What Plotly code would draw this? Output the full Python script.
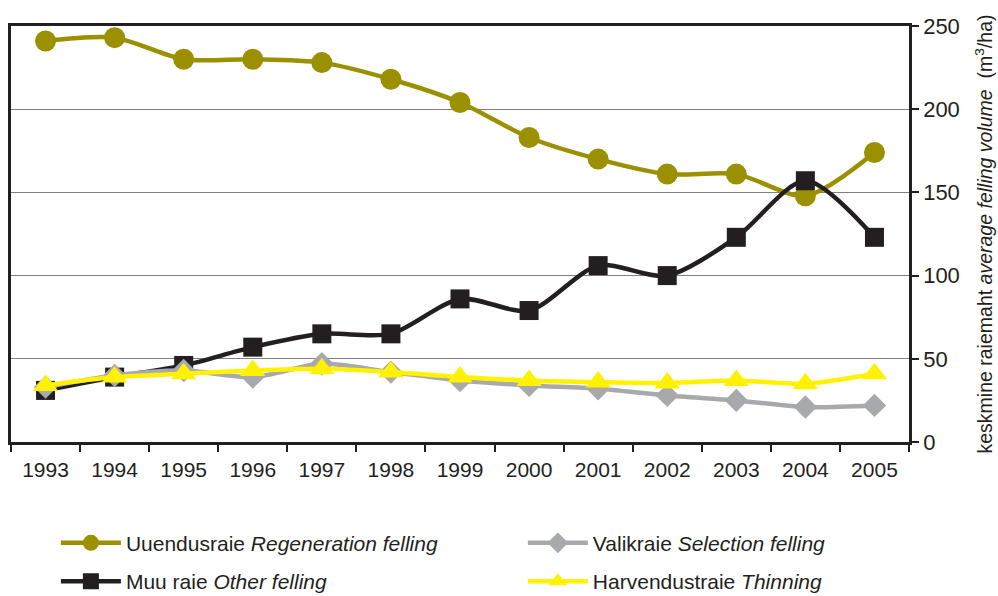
import plotly.graph_objects as go

years = ["1993", "1994", "1995", "1996", "1997", "1998", "1999",
         "2000", "2001", "2002", "2003", "2004", "2005"]

regeneration = [241, 243, 230, 230, 228, 218, 204, 183, 170, 161, 161, 148, 174]
other = [31, 39, 46, 57, 65, 65, 86, 79, 106, 100, 123, 157, 123]
selection = [33, 40, 43, 39, 47, 42, 37, 34, 32, 28, 25, 21, 22]
thinning = [34, 39, 41, 43, 44, 42, 39, 37, 36, 35.5, 37, 35, 41]

y_ticks = [0, 50, 100, 150, 200, 250]

OLIVE = "#9a9000"
BLACK = "#231f20"
GRAY = "#a7a9ac"
YELLOW = "#fff200"

FONT = "Liberation Sans, Arial, sans-serif"

fig = go.Figure()

series = [
    # (name, values, color, symbol, marker size, legend, rank)
    ("Uuendusraie <i>Regeneration felling</i>", regeneration, OLIVE, "circle", 21, "legend", 1),
    ("Muu raie <i>Other felling</i>", other, BLACK, "square", 19, "legend", 2),
    ("Valikraie <i>Selection felling</i>", selection, GRAY, "diamond", 18, "legend2", 1),
    ("Harvendustraie <i>Thinning</i>", thinning, YELLOW, "triangle-up", 22, "legend2", 2),
]

for i, (name, vals, color, sym, size, leg, rank) in enumerate(series):
    fig.add_trace(go.Scatter(
        x=years, y=vals, name=name,
        mode="lines+markers",
        line=dict(color=color, width=4.5, shape="spline", smoothing=0.8),
        marker=dict(color=color, symbol=sym, size=size, line=dict(width=0)),
        legend=leg, legendrank=rank, legendgroup=f"g{i}",
        hoverinfo="x+y",
    ))

legend_common = dict(
    yref="container", y=0.123, yanchor="top",
    orientation="v", tracegroupgap=8,
    font=dict(family=FONT, size=21, color="#231f20"),
    itemwidth=60, bgcolor="rgba(0,0,0,0)",
)

fig.update_layout(
    width=998, height=596,
    margin=dict(l=11, r=89, t=26, b=154, autoexpand=False),
    paper_bgcolor="white", plot_bgcolor="white",
    font=dict(family=FONT, size=21, color="#231f20"),
    showlegend=True,
    legend=dict(x=0.05, xanchor="left", **legend_common),
    legend2=dict(x=0.57, xanchor="left", **legend_common),
)

fig.update_xaxes(
    type="category",
    tickson="boundaries",
    ticks="outside", ticklen=7, tickwidth=1.5, tickcolor="#231f20",
    ticklabelstandoff=7,
    showline=True, linecolor="#231f20", linewidth=2.5,
    mirror=True,
    showgrid=False,
    tickfont=dict(family=FONT, size=21, color="#231f20"),
    range=[-0.5, 12.5],
)

fig.update_yaxes(
    side="right",
    range=[0, 250],
    tickvals=y_ticks,
    ticks="outside", ticklen=7, tickwidth=1.5, tickcolor="#231f20",
    showline=True, linecolor="#231f20", linewidth=2.5,
    mirror=True,
    showgrid=True, gridcolor="#808080", gridwidth=1.2,
    zeroline=False,
    tickfont=dict(family=FONT, size=22, color="#231f20"),
    title=dict(
        text="keskmine raiemaht <i>average felling volume</i>  (m<sup>3</sup>/ha)",
        font=dict(family=FONT, size=19.5, color="#231f20"),
        standoff=20,
    ),
)

fig.write_html("out.html")
